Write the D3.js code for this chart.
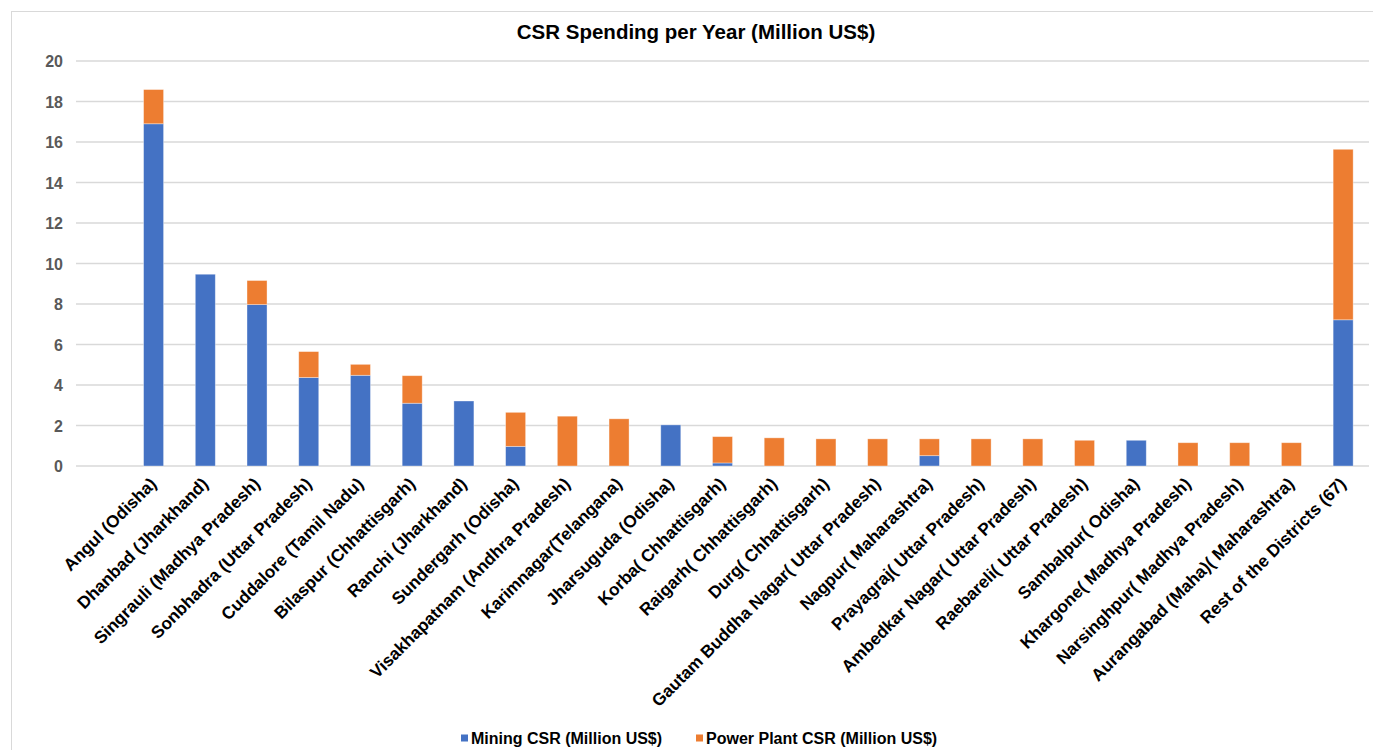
<!DOCTYPE html>
<html>
<head>
<meta charset="utf-8">
<script src="https://cdn.jsdelivr.net/npm/d3@7"></script>
<style>
  html, body { margin: 0; padding: 0; background: #fff; }
  svg { display: block; font-family: "Liberation Sans", Arial, Helvetica, sans-serif; }
</style>
</head>
<body>
<svg id="chart" width="1373" height="750"></svg>
<script>
// District names, in the order shown on the x axis
const districts = [
  "Angul (Odisha)", "Dhanbad (Jharkhand)", "Singrauli (Madhya Pradesh)",
  "Sonbhadra (Uttar Pradesh)", "Cuddalore (Tamil Nadu)", "Bilaspur (Chhattisgarh)",
  "Ranchi (Jharkhand)", "Sundergarh (Odisha)", "Visakhapatnam (Andhra Pradesh)",
  "Karimnagar(Telangana)", "Jharsuguda (Odisha)", "Korba( Chhattisgarh)",
  "Raigarh( Chhattisgarh)", "Durg( Chhattisgarh)", "Gautam Buddha Nagar( Uttar Pradesh)",
  "Nagpur( Maharashtra)", "Prayagraj( Uttar Pradesh)", "Ambedkar Nagar( Uttar Pradesh)",
  "Raebareli( Uttar Pradesh)", "Sambalpur( Odisha)", "Khargone( Madhya Pradesh)",
  "Narsinghpur( Madhya Pradesh)", "Aurangabad (Maha)( Maharashtra)", "Rest of the Districts (67)"
];

// Mining CSR, million US$
const miningCSR = [
  16.9, 9.47, 7.97, 4.37, 4.48, 3.1, 3.21, 0.97, 0, 0, 2.03, 0.15,
  0, 0, 0, 0.51, 0, 0, 0, 1.27, 0, 0, 0, 7.22
];

// Power plant CSR, million US$
const powerCSR = [
  1.69, 0, 1.19, 1.28, 0.54, 1.36, 0, 1.68, 2.46, 2.33, 0, 1.3,
  1.39, 1.34, 1.34, 0.83, 1.34, 1.34, 1.27, 0, 1.15, 1.15, 1.15, 8.42
];

const seriesNames = ["Mining CSR (Million US$)", "Power Plant CSR (Million US$)"];
const seriesColors = ["#4472C4", "#ED7D31"];
const yTicks = [0, 2, 4, 6, 8, 10, 12, 14, 16, 18, 20];
const chartTitle = "CSR Spending per Year (Million US$)";

const svg = d3.select("#chart");

// Outer chart-area border
svg.append("rect")
  .attr("x", 11.5).attr("y", 11.5)
  .attr("width", 1400).attr("height", 800)
  .attr("fill", "none").attr("stroke", "#d9d9d9").attr("stroke-width", 1);

// Plot area
const plotLeft = 76, plotRight = 1369, plotTop = 61, plotBottom = 466;
// the category axis leaves one empty slot ahead of the first district
const slot = (plotRight - plotLeft) / (districts.length + 1);

const x = d3.scaleBand()
  .domain(districts)
  .range([plotLeft + slot, plotRight])
  .paddingInner(0.613)
  .paddingOuter(0.3065);

const y = d3.scaleLinear().domain([0, 20]).range([plotBottom, plotTop]);

// Horizontal gridlines
svg.append("g")
  .selectAll("line")
  .data(yTicks)
  .join("line")
  .attr("x1", plotLeft).attr("x2", plotRight)
  .attr("y1", d => y(d)).attr("y2", d => y(d))
  .attr("stroke", "#d9d9d9").attr("stroke-width", 1.3);

// Y axis labels
const yAxis = d3.axisLeft(y).tickValues(yTicks).tickSize(0).tickPadding(0).tickFormat(d3.format("d"));
const yg = svg.append("g").attr("transform", `translate(${plotLeft - 13},0)`).call(yAxis);
yg.select(".domain").remove();
yg.selectAll("text")
  .attr("fill", "#595959")
  .style("font-size", "16px")
  .style("font-weight", "bold")
  .attr("dy", "0.36em");

// Stacked bars
const rows = districts.map((d, i) => ({ district: d, mining: miningCSR[i], power: powerCSR[i] }));
const stack = d3.stack().keys(["mining", "power"]);
const layers = stack(rows);

svg.append("g")
  .selectAll("g")
  .data(layers)
  .join("g")
  .attr("fill", (d, i) => seriesColors[i])
  .selectAll("rect")
  .data(d => d.filter(s => s[1] - s[0] > 0))
  .join("rect")
  .attr("x", d => x(d.data.district))
  .attr("width", x.bandwidth())
  .attr("y", d => y(d[1]))
  .attr("height", d => y(d[0]) - y(d[1]))
  .attr("stroke", "#ffffff").attr("stroke-opacity", 0.45).attr("stroke-width", 0.8);

// X axis category labels (rotated)
const xAxis = d3.axisBottom(x).tickSize(0).tickPadding(0);
const xg = svg.append("g").attr("transform", `translate(0,${plotBottom})`).call(xAxis);
xg.select(".domain").remove();
xg.selectAll("text")
  .attr("fill", "#000")
  .style("font-size", "17.2px")
  .style("font-weight", "bold")
  .attr("text-anchor", "end")
  .attr("dy", 0)
  .attr("transform", "translate(4,19) rotate(-45)");

// Title
svg.append("text")
  .attr("x", 696).attr("y", 39)
  .attr("text-anchor", "middle")
  .style("font-size", "20.5px").style("font-weight", "bold")
  .attr("fill", "#000")
  .text(chartTitle);

// Legend
const legendItems = [
  { sx: 461, tx: 471 },
  { sx: 696, tx: 706 }
];
const lg = svg.append("g");
legendItems.forEach((p, i) => {
  lg.append("rect")
    .attr("x", p.sx).attr("y", 734.5)
    .attr("width", 7).attr("height", 7)
    .attr("fill", seriesColors[i]);
  lg.append("text")
    .attr("x", p.tx).attr("y", 744)
    .style("font-size", "16px").style("font-weight", "bold")
    .attr("fill", "#000")
    .text(seriesNames[i]);
});
</script>
</body>
</html>
